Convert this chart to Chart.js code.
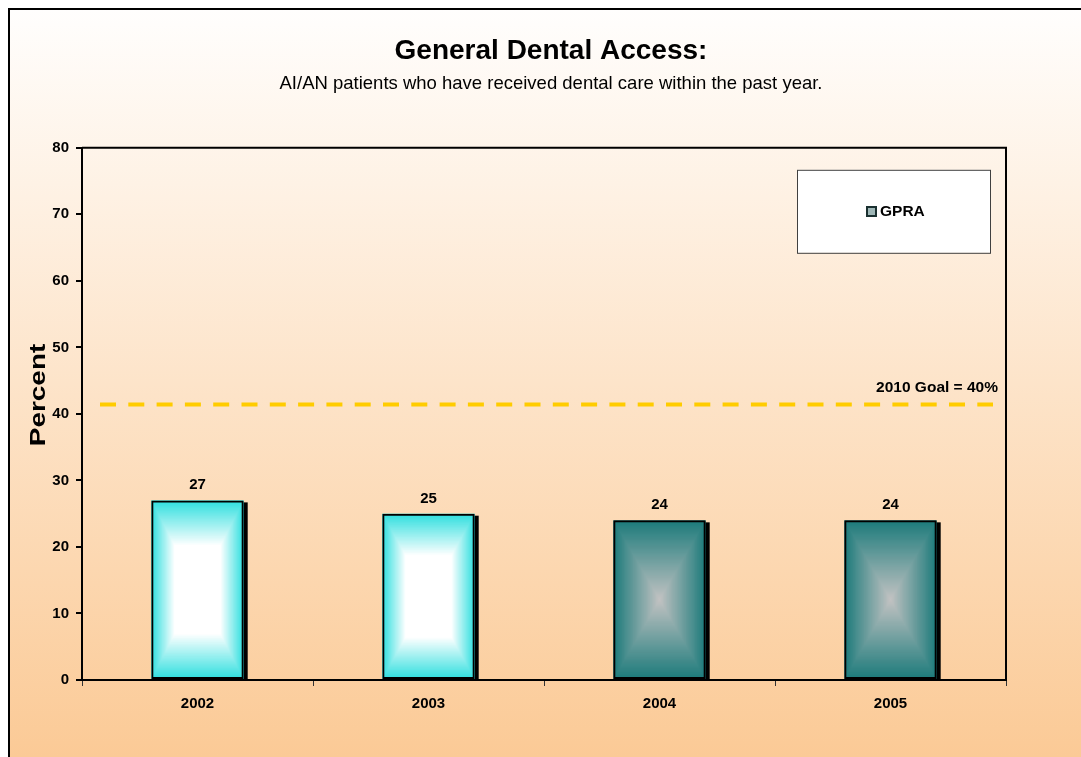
<!DOCTYPE html>
<html>
<head>
<meta charset="utf-8">
<script src="https://cdn.jsdelivr.net/npm/chart.js@4/dist/chart.umd.min.js"></script>
<style>
  html, body { margin: 0; padding: 0; background: #fff; overflow: hidden; }
  #frame {
    position: absolute; left: 8px; top: 8px;
    border-left: 2px solid #000; border-top: 2px solid #000;
    width: 1082px; height: 747px;
  }
  canvas { display: block; }
</style>
</head>
<body>
<div id="frame"><canvas id="chart" width="1082" height="747"></canvas></div>
<script>
// data
const categories = ["2002", "2003", "2004", "2005"];
const gpraValues = [27, 25, 24, 24];
const yMin = 0;
const yMax = 80;
const yStep = 10;
const goalValue = 41.4;
const goalLabel = "2010 Goal = 40%";
const yTitle = "Percent";

// bar colours: edge colour and centre colour of the box gradient
const edgeColors = ["#30dfdf", "#30dfdf", "#1d7b7b", "#1d7b7b"];
const centerColors = ["#ffffff", "#ffffff", "#c3c3c3", "#c3c3c3"];
const whiteStop = [0.5, 0.5, 1, 1];

const FONT = "Arial, 'Liberation Sans', sans-serif";

function hexToRgb(h) {
  const n = parseInt(h.slice(1), 16);
  return [(n >> 16) & 255, (n >> 8) & 255, n & 255];
}
function mix(a, b, t) {
  const A = hexToRgb(a), B = hexToRgb(b);
  const c = A.map((v, k) => Math.round(v + (B[k] - v) * t));
  return "rgb(" + c.join(",") + ")";
}

// page background (white -> peach)
const backgroundPlugin = {
  id: "bg",
  beforeDraw(chart) {
    const { ctx, width, height } = chart;
    const g = ctx.createLinearGradient(0, 0, 0, height);
    g.addColorStop(0, "#fffefd");
    g.addColorStop(1, "#fbca96");
    ctx.save();
    ctx.fillStyle = g;
    ctx.fillRect(0, 0, width, height);
    ctx.restore();
  }
};

// shadow + rectangular "from centre" gradient under each bar
const barFillPlugin = {
  id: "barFill",
  beforeDatasetsDraw(chart) {
    const ctx = chart.ctx;
    const meta = chart.getDatasetMeta(0);
    meta.data.forEach((bar, i) => {
      const { x, y, base, width } = bar.getProps(["x", "y", "base", "width"], true);
      const left = x - width / 2;
      const top = Math.min(y, base);
      const h = Math.abs(base - y);
      ctx.save();
      ctx.fillStyle = "#000";
      ctx.fillRect(left + 4, top + 2, width, h - 2);
      const hw = width / 2, hh = h / 2;
      const steps = Math.ceil(Math.max(hw, hh));
      for (let s = 0; s <= steps; s++) {
        const t = s / steps;
        const k = Math.min(1, t / whiteStop[i]);
        ctx.fillStyle = mix(edgeColors[i], centerColors[i], k);
        ctx.fillRect(left + t * hw, top + t * hh, width - 2 * t * hw, h - 2 * t * hh);
      }
      ctx.restore();
    });
  }
};

// value labels, goal line, plot frame, legend box, y title
const overlayPlugin = {
  id: "overlay",
  afterDatasetsDraw(chart) {
    const { ctx, chartArea: a, scales } = chart;
    const meta = chart.getDatasetMeta(0);
    ctx.save();

    // plot frame top/right
    ctx.strokeStyle = "#000";
    ctx.lineWidth = 2;
    ctx.beginPath();
    ctx.moveTo(a.left, a.top);
    ctx.lineTo(a.right, a.top);
    ctx.lineTo(a.right, a.bottom);
    ctx.stroke();

    // value labels
    ctx.fillStyle = "#000";
    ctx.font = "bold 15px " + FONT;
    ctx.textAlign = "center";
    ctx.textBaseline = "alphabetic";
    meta.data.forEach((bar, i) => {
      ctx.fillText(String(gpraValues[i]), bar.x, bar.y - 11);
    });

    // goal line
    const gy = scales.y.getPixelForValue(goalValue);
    ctx.strokeStyle = "#ffcc00";
    ctx.lineWidth = 4;
    ctx.setLineDash([16, 12.3]);
    ctx.beginPath();
    ctx.moveTo(a.left + 18, gy);
    ctx.lineTo(a.right - 13, gy);
    ctx.stroke();
    ctx.setLineDash([]);
    ctx.textAlign = "right";
    ctx.font = "bold 15.5px " + FONT;
    ctx.fillText(goalLabel, a.right - 8, gy - 13);

    // legend box
    const bx = a.right - 209, by = a.top + 22, bw = 193, bh = 83;
    ctx.fillStyle = "#fff";
    ctx.fillRect(bx, by, bw, bh);
    ctx.strokeStyle = "#404040";
    ctx.lineWidth = 1;
    ctx.strokeRect(bx + 0.5, by + 0.5, bw, bh);
    const label = chart.data.datasets[0].label;
    ctx.font = "bold 15.5px " + FONT;
    const tw = ctx.measureText(label).width;
    const total = 11 + 3 + tw;
    const sx = Math.round(bx + bw / 2 - total / 2) + 2;
    const sy = Math.round(by + bh / 2 - 5);
    ctx.fillStyle = "#9fb7b7";
    ctx.fillRect(sx, sy, 11, 11);
    ctx.strokeStyle = "#1a3030";
    ctx.lineWidth = 2;
    ctx.strokeRect(sx + 1, sy + 1, 9, 9);
    ctx.fillStyle = "#000";
    ctx.textAlign = "left";
    ctx.textBaseline = "middle";
    ctx.fillText(label, sx + 14, sy + 5.5);

    // y axis title, rotated and a bit stretched like the original
    ctx.translate(20, 385);
    ctx.rotate(-Math.PI / 2);
    ctx.scale(1.27, 1);
    ctx.font = "bold 22px " + FONT;
    ctx.textAlign = "center";
    ctx.textBaseline = "alphabetic";
    ctx.fillText(yTitle, 0, 15);

    ctx.restore();
  }
};

new Chart(document.getElementById("chart"), {
  type: "bar",
  data: {
    labels: categories,
    datasets: [
      {
        label: "GPRA",
        data: gpraValues,
        backgroundColor: "rgba(0,0,0,0)",
        borderColor: "#000",
        borderWidth: 2,
        borderSkipped: false,
        barPercentage: 0.4,
        categoryPercentage: 1
      }
    ]
  },
  options: {
    responsive: false,
    animation: false,
    layout: { padding: 0 },
    plugins: {
      legend: { display: false },
      tooltip: { enabled: false },
      title: {
        display: true,
        text: "General Dental Access:",
        color: "#000",
        font: { family: FONT, size: 28, weight: "bold" },
        padding: { top: 24, bottom: 0 }
      },
      subtitle: {
        display: true,
        text: "AI/AN patients who have received dental care within the past year.",
        color: "#000",
        font: { family: FONT, size: 18.5 },
        padding: { top: 5, bottom: 53 }
      }
    },
    scales: {
      x: {
        grid: {
          display: true,
          drawOnChartArea: false,
          color: "#333",
          lineWidth: 1,
          tickLength: 6
        },
        border: { display: true, color: "#000", width: 2 },
        ticks: {
          color: "#000",
          padding: 9,
          font: { family: FONT, size: 15, weight: "bold" }
        },
        afterFit(scale) { scale.height = 77; }
      },
      y: {
        min: yMin,
        max: yMax,
        ticks: {
          stepSize: yStep,
          color: "#000",
          padding: 7,
          font: { family: FONT, size: 15, weight: "bold" }
        },
        grid: {
          display: true,
          drawOnChartArea: false,
          color: "#000",
          lineWidth: 2,
          tickLength: 6
        },
        border: { display: true, color: "#000", width: 2 },
        afterFit(scale) { scale.width = 72; }
      },
      // empty right-hand spacer so the titles stay centred on the whole frame
      spacer: {
        type: "linear",
        position: "right",
        display: true,
        grid: { display: false },
        border: { display: false },
        ticks: { display: false },
        afterFit(scale) { scale.width = 86; }
      }
    }
  },
  plugins: [backgroundPlugin, barFillPlugin, overlayPlugin]
});
</script>
</body>
</html>
